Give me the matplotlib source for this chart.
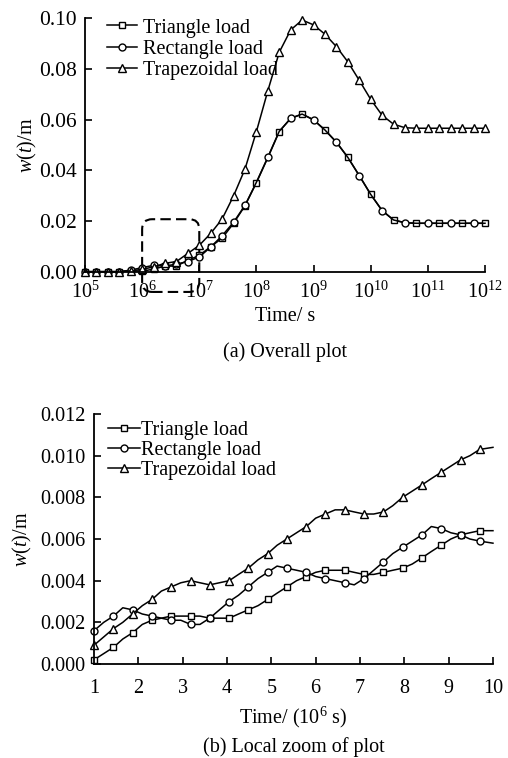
import matplotlib
matplotlib.use("Agg")
import numpy as np
import matplotlib.pyplot as plt
from matplotlib.patches import FancyBboxPatch

plt.rcParams['font.family'] = ['Liberation Serif', 'DejaVu Serif']
plt.rcParams['mathtext.fontset'] = 'custom'
plt.rcParams['mathtext.rm'] = 'Liberation Serif'
plt.rcParams['mathtext.it'] = 'Liberation Serif:italic'
plt.rcParams['font.size'] = 14

# (a) overall plot, time exponent (log10 s)
t_exp = [5.0, 5.2, 5.4, 5.6, 5.8, 6.0, 6.2, 6.4, 6.6, 6.8,
         7.0, 7.2, 7.4, 7.6, 7.8, 8.0, 8.2, 8.4, 8.6, 8.8,
         9.0, 9.2, 9.4, 9.6, 9.8, 10.0, 10.2, 10.4, 10.6, 10.8,
         11.0, 11.2, 11.4, 11.6, 11.8, 12.0]
tri_a = [0.0, 0.0, 0.0, 0.0, 0.0003, 0.0002, 0.0010, 0.0022, 0.0022, 0.0045,
         0.0064, 0.0099, 0.0132, 0.0191, 0.0260, 0.0351, 0.0450, 0.0553, 0.0605, 0.0622,
         0.0599, 0.0559, 0.0511, 0.0451, 0.0379, 0.0305, 0.0241, 0.0204, 0.0193, 0.0191,
         0.0191, 0.0191, 0.0191, 0.0191, 0.0191, 0.0191]
rect_a = [0.0, 0.0, 0.0, 0.0, 0.0006, 0.0016, 0.0025, 0.0022, 0.0030, 0.0040,
          0.0058, 0.0097, 0.0142, 0.0195, 0.0262, 0.0353, 0.0452, 0.0554, 0.0605, 0.0622,
          0.0599, 0.0559, 0.0511, 0.0451, 0.0379, 0.0305, 0.0241, 0.0204, 0.0193, 0.0191,
          0.0191, 0.0191, 0.0191, 0.0191, 0.0191, 0.0191]
trap_a = [0.0, 0.0, 0.0, 0.0, 0.0003, 0.0009, 0.0019, 0.0033, 0.0040, 0.0072,
          0.0104, 0.0151, 0.0208, 0.0299, 0.0405, 0.0553, 0.0714, 0.0866, 0.0954, 0.0993,
          0.0974, 0.0937, 0.0888, 0.0828, 0.0755, 0.0680, 0.0617, 0.0582, 0.0568, 0.0566,
          0.0566, 0.0566, 0.0566, 0.0566, 0.0566, 0.0566]

# (b) local zoom, time in 10^6 s
t_b = [1.00, 1.22, 1.44, 1.65, 1.87, 2.09, 2.31, 2.52, 2.74, 2.96,
       3.18, 3.39, 3.61, 3.83, 4.05, 4.26, 4.48, 4.70, 4.92, 5.13,
       5.35, 5.57, 5.79, 6.00, 6.22, 6.44, 6.66, 6.87, 7.09, 7.31,
       7.53, 7.74, 7.96, 8.18, 8.40, 8.61, 8.83, 9.05, 9.27, 9.48,
       9.70, 10.0]
tri_b = [0.0002, 0.0005, 0.0008, 0.0012, 0.0015, 0.0019, 0.0021, 0.0022, 0.0023, 0.0023,
         0.0023, 0.0023, 0.0022, 0.0022, 0.0022, 0.0024, 0.0026, 0.0028, 0.0031, 0.0034,
         0.0037, 0.0040, 0.0042, 0.0044, 0.0045, 0.0045, 0.0045, 0.0044, 0.0043, 0.0043,
         0.0044, 0.0045, 0.0046, 0.0048, 0.0051, 0.0054, 0.0057, 0.0060, 0.0062, 0.0063,
         0.0064, 0.0064]
rect_b = [0.0016, 0.0020, 0.0023, 0.0027, 0.0026, 0.0024, 0.0023, 0.0022, 0.0021, 0.0021,
          0.0019, 0.0019, 0.0022, 0.0026, 0.0030, 0.0033, 0.0037, 0.0041, 0.0044, 0.0047,
          0.0046, 0.0045, 0.0044, 0.0042, 0.0041, 0.0040, 0.0039, 0.0038, 0.0041, 0.0045,
          0.0049, 0.0053, 0.0056, 0.0059, 0.0062, 0.0066, 0.0065, 0.0063, 0.0062, 0.0060,
          0.0059, 0.0058]
trap_b = [0.0009, 0.0013, 0.0017, 0.0020, 0.0024, 0.0028, 0.0031, 0.0035, 0.0037, 0.0039,
          0.0040, 0.0039, 0.0038, 0.0039, 0.0040, 0.0043, 0.0046, 0.0050, 0.0053, 0.0057,
          0.0060, 0.0063, 0.0066, 0.0070, 0.0072, 0.0074, 0.0074, 0.0073, 0.0072, 0.0072,
          0.0073, 0.0076, 0.0080, 0.0083, 0.0086, 0.0089, 0.0092, 0.0095, 0.0098, 0.0100,
          0.0103, 0.0104]

labels = ['Triangle load', 'Rectangle load', 'Trapezoidal load']

fig = plt.figure(figsize=(5.08, 7.58), dpi=100)

mk = dict(color='black', lw=1.1, mfc='white', mec='black', mew=1.0)


def style_axes(ax, size, pad):
    ax.spines['top'].set_visible(False)
    ax.spines['right'].set_visible(False)
    ax.spines['left'].set_linewidth(1.3)
    ax.spines['bottom'].set_linewidth(1.3)
    ax.tick_params(which='major', direction='in', length=5, width=1.2, labelsize=size, pad=pad)
    ax.tick_params(which='minor', direction='in', length=2.5, width=1.0)


# ---- (a)
ax1 = fig.add_axes([0.1673, 0.6416, 0.7874, 0.3343])
t_a = 10.0 ** np.array(t_exp)
n = len(t_a)
sq_idx = [i for i in range(n) if i <= 14 or i % 2 == 1]
ci_idx = [i for i in range(n) if i <= 14 or i % 2 == 0]
ax1.plot(t_a, tri_a, marker='s', ms=4.5, markevery=sq_idx, label=labels[0], **mk)
ax1.plot(t_a, rect_a, marker='o', ms=5, markevery=ci_idx, label=labels[1], **mk)
ax1.plot(t_a, trap_a, marker='^', ms=5.5, label=labels[2], **mk)
for ln in ax1.lines:
    ln.set_clip_on(False)
ax1.set_xscale('log')
ax1.set_xlim(1e5, 1e12)
ax1.set_ylim(0, 0.10)
ax1.set_xticks([10.0 ** k for k in range(5, 13)])
ax1.set_xticklabels([r'$10^{%d}$' % k for k in range(5, 13)])
ax1.set_yticks([0, 0.02, 0.04, 0.06, 0.08, 0.10])
ax1.set_yticklabels(['0.00', '0.02', '0.04', '0.06', '0.08', '0.10'])
style_axes(ax1, 15.5, 6)
ax1.tick_params(axis='x', labelsize=14.5, pad=7)
ax1.set_xlabel('Time/ s', fontsize=14.5, labelpad=3)
ax1.set_ylabel(r'$w$($t$)/m', fontsize=14.5)
ax1.yaxis.set_label_coords(-0.115, 0.5)
ax1.legend(loc='upper left', bbox_to_anchor=(0.02, 1.055), frameon=False, fontsize=14.5,
           handlelength=1.5, handletextpad=0.3, labelspacing=0.1, borderpad=0.2)

# dashed box marking the zoomed region
box = FancyBboxPatch((1 / 7, -0.08), 1 / 7, 0.287, transform=ax1.transAxes,
                     boxstyle='round,pad=0,rounding_size=0.025', mutation_aspect=1.58,
                     fill=False, ec='black', lw=1.5, ls=(0, (5, 2.5)), clip_on=False)
ax1.add_patch(box)

fig.text(0.561, 1 - 352 / 758, '(a) Overall plot', ha='center', va='center', fontsize=14.5)

# ---- (b)
ax2 = fig.add_axes([0.185, 0.124, 0.7854, 0.3298])
every = list(range(0, len(t_b) - 1, 2))
ax2.plot(t_b, tri_b, marker='s', ms=4.5, markevery=every, label=labels[0], **mk)
ax2.plot(t_b, rect_b, marker='o', ms=5, markevery=every, label=labels[1], **mk)
ax2.plot(t_b, trap_b, marker='^', ms=5.5, markevery=every, label=labels[2], **mk)
for ln in ax2.lines:
    ln.set_clip_on(False)
ax2.set_xlim(1, 10)
ax2.set_ylim(0, 0.012)
ax2.set_xticks(range(1, 11))
ax2.set_yticks([0, 0.002, 0.004, 0.006, 0.008, 0.010, 0.012])
ax2.set_yticklabels(['0.000', '0.002', '0.004', '0.006', '0.008', '0.010', '0.012'])
style_axes(ax2, 14.5, 6)
ax2.tick_params(axis='x', pad=11)
ax2.set_xlabel(r'Time/ (10$^{6}$ s)', fontsize=14.5, labelpad=5)
ax2.set_ylabel(r'$w$($t$)/m', fontsize=14.5)
ax2.yaxis.set_label_coords(-0.150, 0.5)
ax2.legend(loc='upper left', bbox_to_anchor=(0.0, 1.03), frameon=False, fontsize=14.5,
           handlelength=1.6, handletextpad=0.05, labelspacing=0.05, borderpad=0.2)

fig.text(0.578, 1 - 747 / 758, '(b) Local zoom of plot', ha='center', va='center', fontsize=14.5)

fig.savefig('out.png', dpi=100)
